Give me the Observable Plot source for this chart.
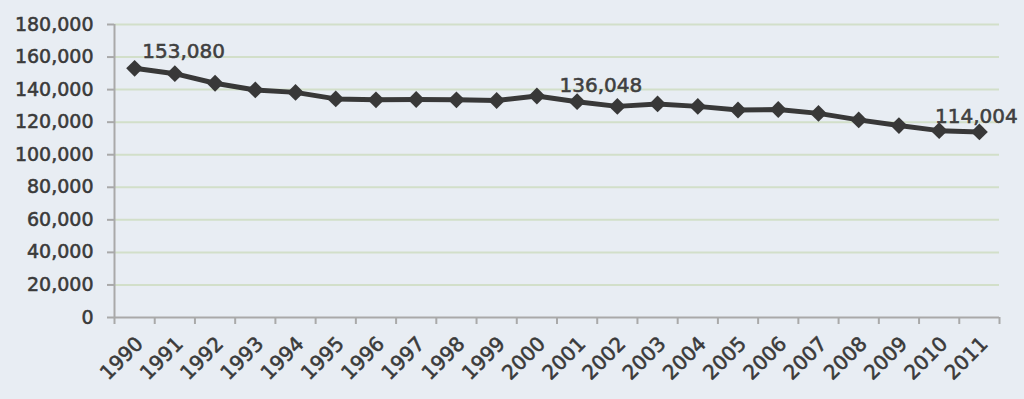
<!DOCTYPE html>
<html>
<head>
<meta charset="utf-8">
<script src="https://cdn.jsdelivr.net/npm/d3@7"></script>
<script src="https://cdn.jsdelivr.net/npm/@observablehq/plot@0.6"></script>
<style>
  html, body { margin: 0; padding: 0; background: #e8edf3; }
  #chart svg { display: block; }
  #chart svg text { stroke: #3a3a3a; stroke-width: 0.55px; paint-order: stroke; }
</style>
</head>
<body>
<div id="chart"></div>
<script>
const years = [1990, 1991, 1992, 1993, 1994, 1995, 1996, 1997, 1998, 1999, 2000,
               2001, 2002, 2003, 2004, 2005, 2006, 2007, 2008, 2009, 2010, 2011];
const values = [153080, 149800, 143900, 139800, 138300, 134300, 133700, 133900, 133700, 133300, 136048,
                132600, 129700, 131200, 129700, 127500, 127800, 125400, 121400, 117900, 114800, 114004];
const yTicks = [0, 20000, 40000, 60000, 80000, 100000, 120000, 140000, 160000, 180000];
const labelYears = [1990, 2000, 2011];

const data = years.map((y, i) => ({year: y, value: values[i]}));
const boundaries = [...years.map(y => y - 0.5), years[years.length - 1] + 0.5];
const fmt = d3.format(",");
const axisColor = "#a9a9a9";
const ink = "#3a3a3a";

const lab = y => data.filter(d => d.year === y);

const chart = Plot.plot({
  width: 1024,
  height: 399,
  marginLeft: 114,
  marginRight: 25,
  marginTop: 24,
  marginBottom: 82,
  style: {background: "#e8edf3", fontFamily: "DejaVu Sans", fontSize: "19px", color: ink},
  x: {domain: [boundaries[0], boundaries[boundaries.length - 1]]},
  y: {domain: [0, 180000]},
  marks: [
    Plot.gridY(yTicks.filter(d => d > 0), {stroke: "#d2dfc9", strokeOpacity: 1, strokeWidth: 2}),
    Plot.axisY(yTicks, {tickSize: 7, tickPadding: 14, tickFormat: fmt, stroke: axisColor, strokeWidth: 2, label: null, fill: ink, fontSize: 19}),
    Plot.ruleX([boundaries[0]], {stroke: axisColor, strokeWidth: 2}),
    Plot.ruleY([0], {stroke: axisColor, strokeWidth: 2}),
    Plot.axisX(boundaries, {tickSize: 7, tickFormat: () => "", stroke: axisColor, strokeWidth: 2, label: null}),
    Plot.axisX(years, {tickSize: 0, tickPadding: 23, tickRotate: -45, tickFormat: d => String(d), label: null, fill: ink, fontSize: 20, dx: 5}),
    Plot.line(data, {x: "year", y: "value", stroke: "#383838", strokeWidth: 5}),
    Plot.dot(data, {x: "year", y: "value", symbol: "diamond2", r: 7.6, fill: "#383838", stroke: "none"}),
    Plot.text(lab(labelYears[0]), {x: "year", y: "value", text: d => fmt(d.value), dx: 49, dy: -17, fontSize: 20, fill: "#404040"}),
    Plot.text(lab(labelYears[1]), {x: "year", y: "value", text: d => fmt(d.value), dx: 64, dy: -10, fontSize: 20, fill: "#404040"}),
    Plot.text(lab(labelYears[2]), {x: "year", y: "value", text: d => fmt(d.value), dx: -3, dy: -15, fontSize: 20, fill: "#404040"})
  ]
});
document.getElementById("chart").appendChild(chart);
</script>
</body>
</html>
